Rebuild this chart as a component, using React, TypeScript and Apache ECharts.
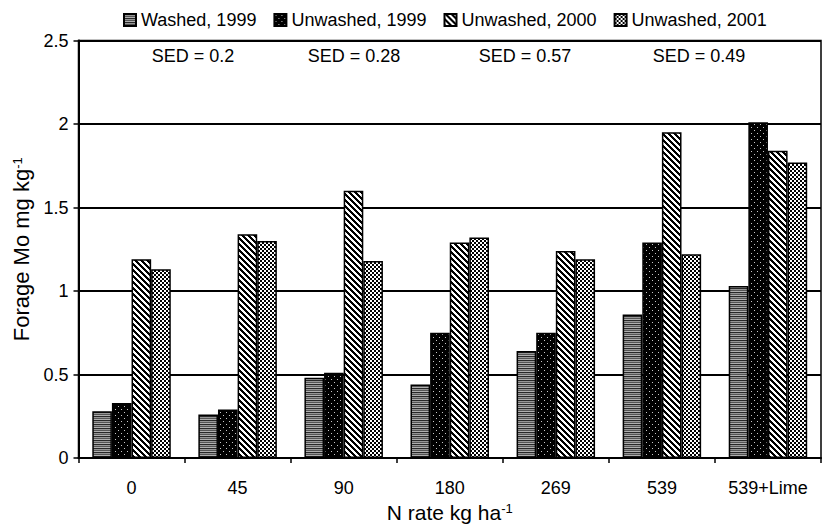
import React, { useEffect, useRef } from "react";
import * as echarts from "echarts";

const categories = ["0", "45", "90", "180", "269", "539", "539+Lime"];
const seriesNames = ["Washed, 1999", "Unwashed, 1999", "Unwashed, 2000", "Unwashed, 2001"];
const washed1999 = [0.28, 0.26, 0.48, 0.44, 0.64, 0.86, 1.03];
const unwashed1999 = [0.33, 0.29, 0.51, 0.75, 0.75, 1.29, 2.01];
const unwashed2000 = [1.19, 1.34, 1.6, 1.29, 1.24, 1.95, 1.84];
const unwashed2001 = [1.13, 1.3, 1.18, 1.32, 1.19, 1.22, 1.77];
const sedLabels = ["SED = 0.2", "SED = 0.28", "SED = 0.57", "SED = 0.49"];
const yTicks = { min: 0, max: 2.5, interval: 0.5 };

const FONT = "'Liberation Sans', Arial, Helvetica, sans-serif";

function makePattern(kind: string): HTMLCanvasElement {
  const c = document.createElement("canvas");
  const size = kind === "diag" ? 6 : kind === "dots" ? 6 : 4;
  c.width = size;
  c.height = size;
  const ctx = c.getContext("2d")!;
  const img = ctx.createImageData(size, size);
  for (let y = 0; y < size; y++) {
    for (let x = 0; x < size; x++) {
      let v = 255;
      if (kind === "hlines") {
        const rows = [40, 150, 85, 175];
        v = rows[y % 4];
      } else if (kind === "dots") {
        v = (x === 1 && y === 1) || (x === 4 && y === 4) ? 200 : 0;
      } else if (kind === "diag") {
        const m = (((x - y) % 6) + 6) % 6;
        v = m < 3 ? 0 : 255;
      } else if (kind === "checker") {
        v = ((x >> 1) + (y >> 1)) % 2 === 0 ? 0 : 255;
      }
      const i = (y * size + x) * 4;
      img.data[i] = v;
      img.data[i + 1] = v;
      img.data[i + 2] = v;
      img.data[i + 3] = 255;
    }
  }
  ctx.putImageData(img, 0, 0);
  return c;
}

export default function App() {
  const ref = useRef<HTMLDivElement>(null);
  useEffect(() => {
    if (!ref.current) return;
    const chart = echarts.init(ref.current, null, { renderer: "svg" });
    const kinds = ["hlines", "dots", "diag", "checker"];
    const dataSets = [washed1999, unwashed1999, unwashed2000, unwashed2001];
    const sedX = [193, 354, 525, 699];
    const supRich = {
      sup: { fontSize: 13, verticalAlign: "top", fontFamily: FONT, color: "#000", padding: [0, 0, 9, 0] },
    };
    chart.setOption({
      animation: false,
      textStyle: { fontFamily: FONT, color: "#000" },
      legend: {
        top: 6,
        left: 118,
        icon: "rect",
        itemWidth: 12,
        itemHeight: 12,
        itemGap: 17,
        selectedMode: false,
        textStyle: { fontSize: 18, color: "#000", fontFamily: FONT },
        data: seriesNames,
      },
      grid: {
        left: 78.5,
        right: 2,
        top: 40.5,
        bottom: 66,
        outerBoundsMode: "none",
        containLabel: false,
        show: true,
        borderColor: "#000",
        borderWidth: 1.5,
        backgroundColor: "transparent",
      },
      xAxis: {
        type: "category",
        data: categories,
        name: "N rate kg ha{sup|-1}",
        nameLocation: "middle",
        nameGap: 39,
        nameTextStyle: { fontSize: 21, color: "#000", fontFamily: FONT, rich: supRich },
        axisLine: { lineStyle: { color: "#000", width: 2 } },
        axisTick: { show: true, length: 5, lineStyle: { color: "#000", width: 1.5 } },
        axisLabel: { fontSize: 18, color: "#000", margin: 21, fontFamily: FONT },
      },
      yAxis: {
        type: "value",
        min: yTicks.min,
        max: yTicks.max,
        interval: yTicks.interval,
        name: "Forage Mo mg kg{sup|-1}",
        nameLocation: "middle",
        nameRotate: 90,
        nameGap: 45,
        nameTextStyle: { fontSize: 22, color: "#000", fontFamily: FONT, rich: supRich },
        axisLine: { show: true, lineStyle: { color: "#000", width: 2 } },
        axisTick: { show: true, length: 5, lineStyle: { color: "#000", width: 1.5 } },
        axisLabel: { fontSize: 18, color: "#000", margin: 10, fontFamily: FONT },
        splitLine: { show: true, lineStyle: { color: "#000", width: 2 } },
      },
      graphic: sedLabels.map((t, i) => ({
        type: "text",
        x: sedX[i],
        y: 56,
        silent: true,
        style: {
          text: t,
          fontSize: 18,
          fontFamily: FONT,
          fill: "#000",
          align: "center",
          verticalAlign: "middle",
        },
      })),
      series: dataSets.map((d, i) => ({
        name: seriesNames[i],
        type: "bar",
        data: d,
        barGap: "0%",
        barCategoryGap: "26%",
        silent: true,
        emphasis: { disabled: true },
        itemStyle: {
          color: { image: makePattern(kinds[i]), repeat: "repeat" },
          borderColor: "#000",
          borderWidth: 1.5,
        },
      })),
    });
    return () => chart.dispose();
  }, []);
  return (
    <div
      ref={ref}
      style={{ position: "fixed", left: 0, top: 0, width: 823, height: 524, background: "#fff" }}
    />
  );
}
